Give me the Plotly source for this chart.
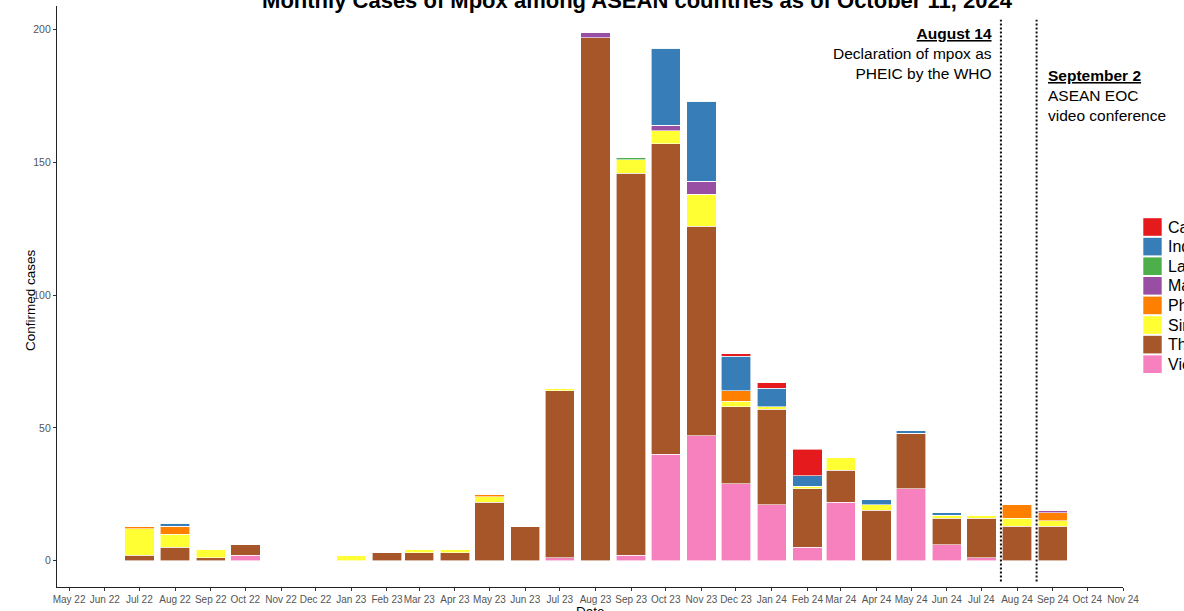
import plotly.graph_objects as go

# ---------------- data ----------------
months = ["2022-05-01", "2022-06-01", "2022-07-01", "2022-08-01", "2022-09-01", "2022-10-01",
          "2022-11-01", "2022-12-01", "2023-01-01", "2023-02-01", "2023-03-01", "2023-04-01",
          "2023-05-01", "2023-06-01", "2023-07-01", "2023-08-01", "2023-09-01", "2023-10-01",
          "2023-11-01", "2023-12-01", "2024-01-01", "2024-02-01", "2024-03-01", "2024-04-01",
          "2024-05-01", "2024-06-01", "2024-07-01", "2024-08-01", "2024-09-01", "2024-10-01",
          "2024-11-01"]

viet_nam    = [0, 0, 0, 0, 0, 2, 0, 0, 0, 0, 0, 0, 0, 0, 1, 0, 2, 40, 47, 29, 21, 5, 22, 0, 27, 6, 1, 0, 0, 0, 0]
thailand    = [0, 0, 2, 5, 1, 4, 0, 0, 0, 3, 3, 3, 22, 13, 63, 197, 144, 117, 79, 29, 36, 22, 12, 19, 21, 10, 15, 13, 13, 0, 0]
singapore   = [0, 0, 10, 5, 3, 0, 0, 0, 2, 0, 1, 1, 2, 0, 1, 0, 5, 5, 12, 2, 1, 1, 5, 2, 0, 1, 1, 3, 2, 0, 0]
philippines = [0, 0, 1, 3, 0, 0, 0, 0, 0, 0, 0, 0, 1, 0, 0, 0, 0, 0, 0, 4, 0, 0, 0, 0, 0, 0, 0, 5, 3, 0, 0]
malaysia    = [0, 0, 0, 0, 0, 0, 0, 0, 0, 0, 0, 0, 0, 0, 0, 2, 0, 2, 5, 0, 0, 0, 0, 0, 0, 0, 0, 0, 1, 0, 0]
lao_pdr     = [0, 0, 0, 0, 0, 0, 0, 0, 0, 0, 0, 0, 0, 0, 0, 0, 1, 0, 0, 0, 0, 0, 0, 0, 0, 0, 0, 0, 0, 0, 0]
indonesia   = [0, 0, 0, 1, 0, 0, 0, 0, 0, 0, 0, 0, 0, 0, 0, 0, 0, 29, 30, 13, 7, 4, 0, 2, 1, 1, 0, 0, 0, 0, 0]
cambodia    = [0, 0, 0, 0, 0, 0, 0, 0, 0, 0, 0, 0, 0, 0, 0, 0, 0, 0, 0, 1, 2, 10, 0, 0, 0, 0, 0, 0, 0, 0, 0]

countries = ["Cambodia", "Indonesia", "Lao PDR", "Malaysia", "Philippines", "Singapore", "Thailand", "Viet Nam"]
colors = {"Cambodia": "#E41A1C", "Indonesia": "#377EB8", "Lao PDR": "#4DAF4A", "Malaysia": "#984EA3",
          "Philippines": "#FF7F00", "Singapore": "#FFFF33", "Thailand": "#A65628", "Viet Nam": "#F781BF"}
series = {"Cambodia": cambodia, "Indonesia": indonesia, "Lao PDR": lao_pdr, "Malaysia": malaysia,
          "Philippines": philippines, "Singapore": singapore, "Thailand": thailand, "Viet Nam": viet_nam}

events = [("2024-07-18", "<b><u>August 14</u></b><br>Declaration of mpox as<br>PHEIC by the WHO"),
          ("2024-08-18", "<b><u>September 2</u></b><br>ASEAN EOC<br>video conference")]

title_text = "Monthly Cases of Mpox among ASEAN countries as of October 11, 2024"

# ---------------- layout geometry ----------------
W, H = 1184, 611
L, R, T, B = 57, 1123, 6, 587
FONT = "Liberation Sans, Arial, Helvetica, sans-serif"


def px(x):
    return (x - L) / (R - L)


def py(y):
    return (B - y) / (B - T)


fig = go.Figure()
DAY_MS = 86400000
for name in reversed(countries):  # bottom of stack first
    fig.add_trace(go.Bar(
        x=months, y=series[name], name=name,
        marker=dict(color=colors[name], line=dict(color="white", width=0.6)),
        width=25.5 * DAY_MS, showlegend=False,
    ))

shapes = []
# event lines
for d, _ in events:
    shapes.append(dict(type="line", xref="x", yref="y", x0=d, x1=d, y0=-7.9, y1=203.8,
                       line=dict(color="#111111", width=2, dash="2px,2px")))

# manual legend (keys)
for i, name in enumerate(countries):
    cy = 227 + 19.6 * i
    shapes.append(dict(type="rect", xref="paper", yref="paper",
                       x0=px(1143.3), x1=px(1161.7), y0=py(cy + 8.8), y1=py(cy - 8.8),
                       fillcolor=colors[name], line=dict(width=0)))

annotations = []
for i, name in enumerate(countries):
    cy = 227 + 19.6 * i
    annotations.append(dict(text=name, xref="paper", yref="paper", x=px(1166), y=py(cy),
                            xanchor="left", yanchor="middle", showarrow=False,
                            font=dict(family=FONT, size=16, color="black")))

annotations.append(dict(text=events[0][1], xref="paper", yref="paper", x=px(994), y=py(54),
                        xanchor="right", yanchor="middle", align="right", showarrow=False,
                        font=dict(family=FONT, size=15.5, color="black")))
annotations.append(dict(text=events[1][1], xref="paper", yref="paper", x=px(1046), y=py(95.5),
                        xanchor="left", yanchor="middle", align="left", showarrow=False,
                        font=dict(family=FONT, size=15.5, color="black")))

# axis titles
annotations.append(dict(text="Confirmed cases", xref="paper", yref="paper", x=px(30), y=py(300),
                        xanchor="center", yanchor="middle", textangle=-90, showarrow=False,
                        font=dict(family=FONT, size=13.5, color="black")))
annotations.append(dict(text="Date", xref="paper", yref="paper", x=px(590), y=py(602),
                        xanchor="center", yanchor="top", showarrow=False,
                        font=dict(family=FONT, size=13.5, color="black")))

fig.update_layout(
    width=W, height=H,
    margin=dict(l=L, r=W - R, t=T, b=H - B, autoexpand=False),
    template="none",
    paper_bgcolor="white", plot_bgcolor="white",
    barmode="stack",
    showlegend=False,
    font=dict(family=FONT, color="black"),
    title=dict(text="<b>" + title_text + "</b>", x=px(637), xref="paper", xanchor="center",
               y=1, yref="container", yanchor="middle",
               font=dict(family=FONT, size=22, color="black")),
    shapes=shapes,
    annotations=annotations,
    xaxis=dict(type="date", range=["2022-04-20 12:00", "2024-11-01"],
               tick0="2022-05-01", dtick="M1", tickformat="%b %y", tickangle=0,
               showgrid=False, zeroline=False, showline=True, linecolor="#222222", linewidth=1.2,
               ticks="outside", ticklen=3, tickcolor="#333333", tickwidth=1,
               tickfont=dict(family=FONT, size=10, color="#555555"), automargin=False),
    yaxis=dict(range=[-9.95, 208.95], tickvals=[0, 50, 100, 150, 200],
               showgrid=False, zeroline=False, showline=True, linecolor="#222222", linewidth=1.2,
               ticks="outside", ticklen=3, tickcolor="#333333", tickwidth=1,
               tickfont=dict(family=FONT, size=10.5, color="#555555"), automargin=False),
)

fig.write_html("out.html", config={"displayModeBar": False},
               post_script="document.body.style.margin='0';document.body.style.overflow='hidden';")
